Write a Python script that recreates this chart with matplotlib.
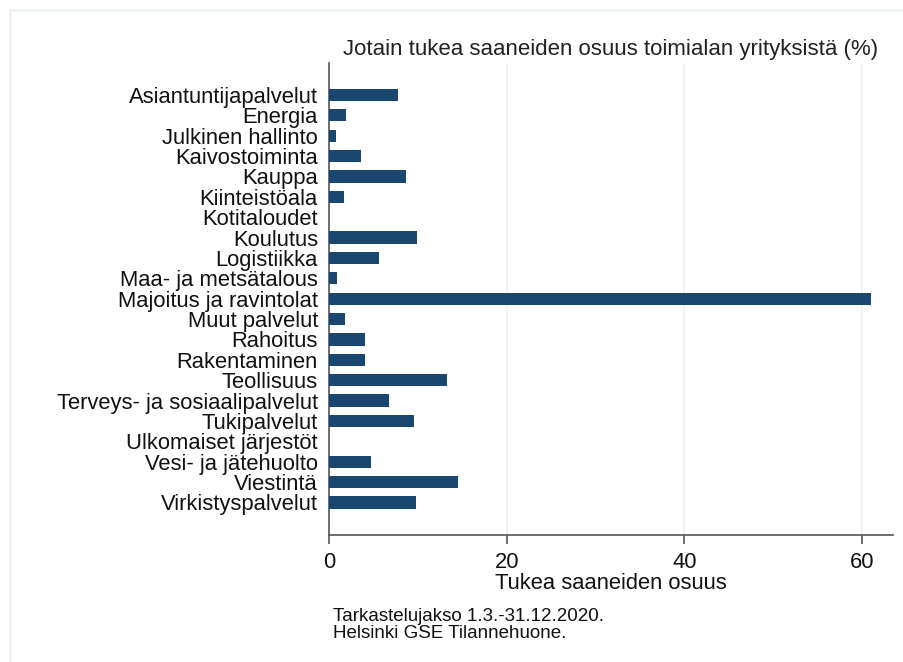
import numpy as np
import matplotlib
matplotlib.use("Agg")
import matplotlib.pyplot as plt
from matplotlib.lines import Line2D

plt.rcParams['font.family'] = ['Liberation Sans', 'DejaVu Sans']

# toimialat ylhäältä alas
toimialat = [
    "Asiantuntijapalvelut", "Energia", "Julkinen hallinto", "Kaivostoiminta",
    "Kauppa", "Kiinteistöala", "Kotitaloudet", "Koulutus", "Logistiikka",
    "Maa- ja metsätalous", "Majoitus ja ravintolat", "Muut palvelut",
    "Rahoitus", "Rakentaminen", "Teollisuus", "Terveys- ja sosiaalipalvelut",
    "Tukipalvelut", "Ulkomaiset järjestöt", "Vesi- ja jätehuolto",
    "Viestintä", "Virkistyspalvelut",
]
osuus = [7.8, 1.9, 0.8, 3.6, 8.7, 1.7, 0.0, 9.9, 5.6, 0.95, 61.0, 1.8,
         4.1, 4.1, 13.3, 6.7, 9.6, 0.0, 4.7, 14.5, 9.8]
xticks = [0, 20, 40, 60]

otsikko = "Jotain tukea saaneiden osuus toimialan yrityksistä (%)"
x_otsikko = "Tukea saaneiden osuus"
alaviite = ["Tarkastelujakso 1.3.-31.12.2020.", "Helsinki GSE Tilannehuone."]

W, H = 904, 662
fig = plt.figure(figsize=(W / 100, H / 100), dpi=100)
fig.patch.set_facecolor("white")

# kehys
fig.add_artist(Line2D([10 / W, 10 / W], [0, 1 - 10 / H], color="#eef3f3", lw=2))
fig.add_artist(Line2D([10 / W, 1], [1 - 10 / H, 1 - 10 / H], color="#eef3f3", lw=2))

ax = fig.add_axes([329 / W, 1 - 535 / H, (893 - 329) / W, (535 - 63) / H])

y = np.arange(len(toimialat))
ax.barh(y, osuus, height=0.6, color="#1a476f", zorder=3)

ax.set_ylim(len(toimialat) - 1 + 1.6, -1.57)
ax.set_xlim(0, 63.5)
ax.set_yticks(y)
ax.set_yticklabels(toimialat, fontsize=15.8, color="#111111")
ax.set_xticks(xticks)
ax.set_xticklabels([str(t) for t in xticks], fontsize=15.8, color="#111111")
ax.tick_params(axis="y", length=0, pad=8)
ax.tick_params(axis="x", length=6.5, width=1.2, color="#555555", pad=6)

ax.grid(axis="x", color="#eaf2f3", lw=1.2, zorder=0)
for s in ["top", "right"]:
    ax.spines[s].set_visible(False)
for s in ["left", "bottom"]:
    ax.spines[s].set_color("#555555")
    ax.spines[s].set_linewidth(1.2)

ax.set_xlabel(x_otsikko, fontsize=15.8, color="#111111", labelpad=0)

fig.text(611 / W, 1 - 55 / H, otsikko, fontsize=16, color="#222222",
         ha="center", va="baseline")
fig.text(333 / W, 1 - 621 / H, alaviite[0], fontsize=13.5, color="#111111",
         va="baseline")
fig.text(333 / W, 1 - 638 / H, alaviite[1], fontsize=13.5, color="#111111",
         va="baseline")

fig.savefig("out.png", dpi=100, facecolor="white")
